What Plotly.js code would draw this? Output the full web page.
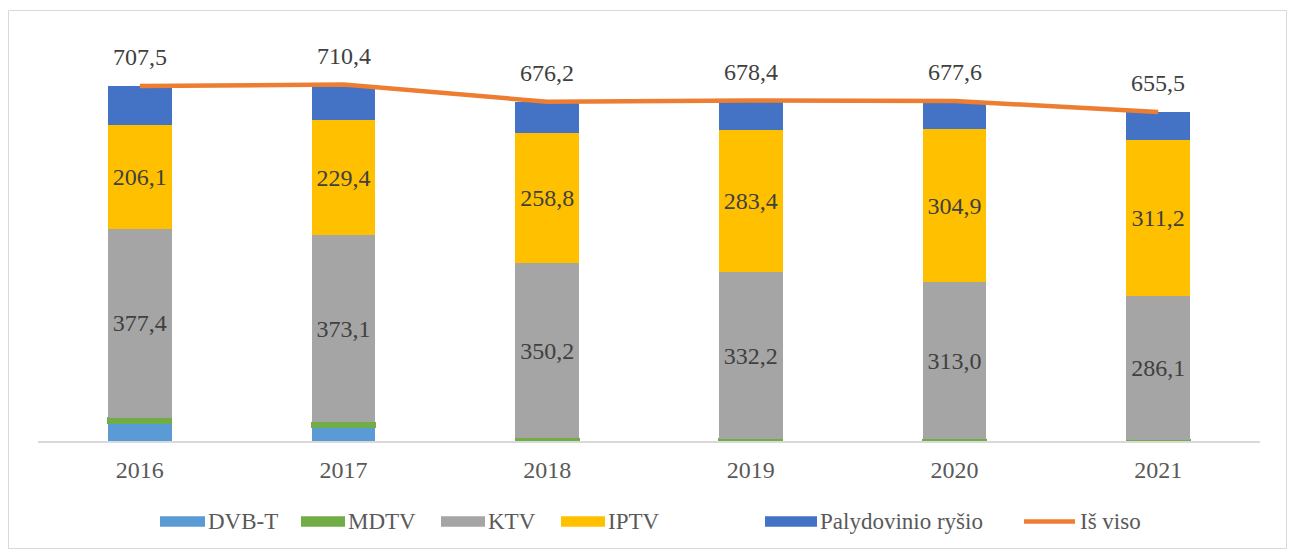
<!DOCTYPE html>
<html>
<head>
<meta charset="utf-8">
<script src="https://cdn.plot.ly/plotly-3.0.1.min.js"></script>
<style>
html,body{margin:0;padding:0;background:#fff;}
#chart{width:1294px;height:551px;}
</style>
</head>
<body>
<div id="chart"></div>
<script>
// ---- data ----
const years = ['2016', '2017', '2018', '2019', '2020', '2021'];
const dvbt = [35, 27, 0, 0, 0, 0];
const mdtv = [11, 10, 5, 4, 3, 2];
const ktv = [377.4, 373.1, 350.2, 332.2, 313.0, 286.1];
const iptv = [206.1, 229.4, 258.8, 283.4, 304.9, 311.2];
const palydovinis = [78.0, 70.9, 62.2, 58.8, 56.7, 56.2];
const isViso = [707.5, 710.4, 676.2, 678.4, 677.6, 655.5];
const seriesNames = ['DVB-T', 'MDTV', 'KTV', 'IPTV', 'Palydovinio ryšio', 'Iš viso'];

// ---- style ----
const FONT = 'Liberation Serif, Times New Roman, serif';
const colors = ['#5B9BD5', '#70AD47', '#A5A5A5', '#FFC000', '#4472C4', '#ED7D31'];
const fmt = v => v.toFixed(1).replace('.', ',');

const M = {l: 38, r: 34, t: 20, b: 110};
const W = 1294, H = 551;
const PW = W - M.l - M.r, PH = H - M.t - M.b;
const px2x = p => (p - M.l) / PW;
const px2y = p => (H - M.b - p) / PH;

function barTrace(name, vals, color, showText, lineW) {
  return {
    type: 'bar', name: name, x: years, y: vals,
    marker: {color: color, line: {color: color, width: lineW || 0}},
    text: showText ? vals.map(fmt) : undefined,
    textposition: showText ? 'inside' : 'none',
    insidetextanchor: 'middle',
    textangle: 0,
    constraintext: 'none',
    textfont: {family: FONT, size: 24, color: '#404040'},
    hoverinfo: 'x+y+name',
    showlegend: false
  };
}

const traces = [
  barTrace(seriesNames[0], dvbt, colors[0], false),
  barTrace(seriesNames[1], mdtv, colors[1], false, 1.5),
  barTrace(seriesNames[2], ktv, colors[2], true),
  barTrace(seriesNames[3], iptv, colors[3], true),
  barTrace(seriesNames[4], palydovinis, colors[4], false),
  {
    type: 'scatter', mode: 'lines', name: seriesNames[5], x: years, y: isViso,
    line: {color: colors[5], width: 4.5},
    showlegend: false
  }
];

const annotations = years.map((yr, i) => ({
  x: i, y: isViso[i], xref: 'x', yref: 'y',
  text: fmt(isViso[i]), showarrow: false,
  yshift: 29, xanchor: 'center', yanchor: 'middle',
  font: {family: FONT, size: 24, color: '#404040'}
}));

// custom legend (wide swatches like the original)
const legendSwatchX = [160, 301, 441, 561, 765, 1022];
const legendSwatchW = [45, 44, 44, 44, 52, 55];
const legendY = 521.5;
const shapes = [];
seriesNames.forEach((n, i) => {
  const x0 = legendSwatchX[i], x1 = x0 + legendSwatchW[i];
  if (i < 5) {
    shapes.push({type: 'rect', xref: 'paper', yref: 'paper',
      x0: px2x(x0), x1: px2x(x1), y0: px2y(legendY - 5.3), y1: px2y(legendY + 5.3),
      fillcolor: colors[i], line: {width: 0}});
  } else {
    shapes.push({type: 'line', xref: 'paper', yref: 'paper',
      x0: px2x(x0 + 2), x1: px2x(x1 - 2), y0: px2y(legendY), y1: px2y(legendY),
      line: {color: colors[i], width: 4.5}});
  }
  annotations.push({
    xref: 'paper', yref: 'paper', x: px2x(x1 + 1), y: px2y(legendY),
    xanchor: 'left', yanchor: 'middle', showarrow: false, text: n,
    font: {family: FONT, size: 23, color: '#595959'}
  });
});
// outer frame
shapes.push({type: 'rect', xref: 'paper', yref: 'paper',
  x0: px2x(8.5), x1: px2x(1286.5), y0: px2y(10.5), y1: px2y(548.5),
  line: {color: '#D9D9D9', width: 1}, fillcolor: 'rgba(0,0,0,0)', layer: 'below'});

const layout = {
  width: W, height: H,
  margin: M,
  paper_bgcolor: '#ffffff', plot_bgcolor: '#ffffff',
  barmode: 'stack', bargap: 0.687,
  showlegend: false,
  font: {family: FONT, color: '#595959'},
  xaxis: {
    type: 'category', range: [-0.5, 5.5], autorange: false,
    showline: true, linecolor: '#D9D9D9', linewidth: 1.5,
    ticks: '', showgrid: false, zeroline: false,
    tickfont: {family: FONT, size: 24, color: '#595959'},
    ticklabelstandoff: 7, fixedrange: true
  },
  yaxis: {visible: false, range: [0, 839], autorange: false, showgrid: false, zeroline: false, fixedrange: true},
  annotations: annotations,
  shapes: shapes
};

Plotly.newPlot('chart', traces, layout, {displayModeBar: false, staticPlot: true});
</script>
</body>
</html>
